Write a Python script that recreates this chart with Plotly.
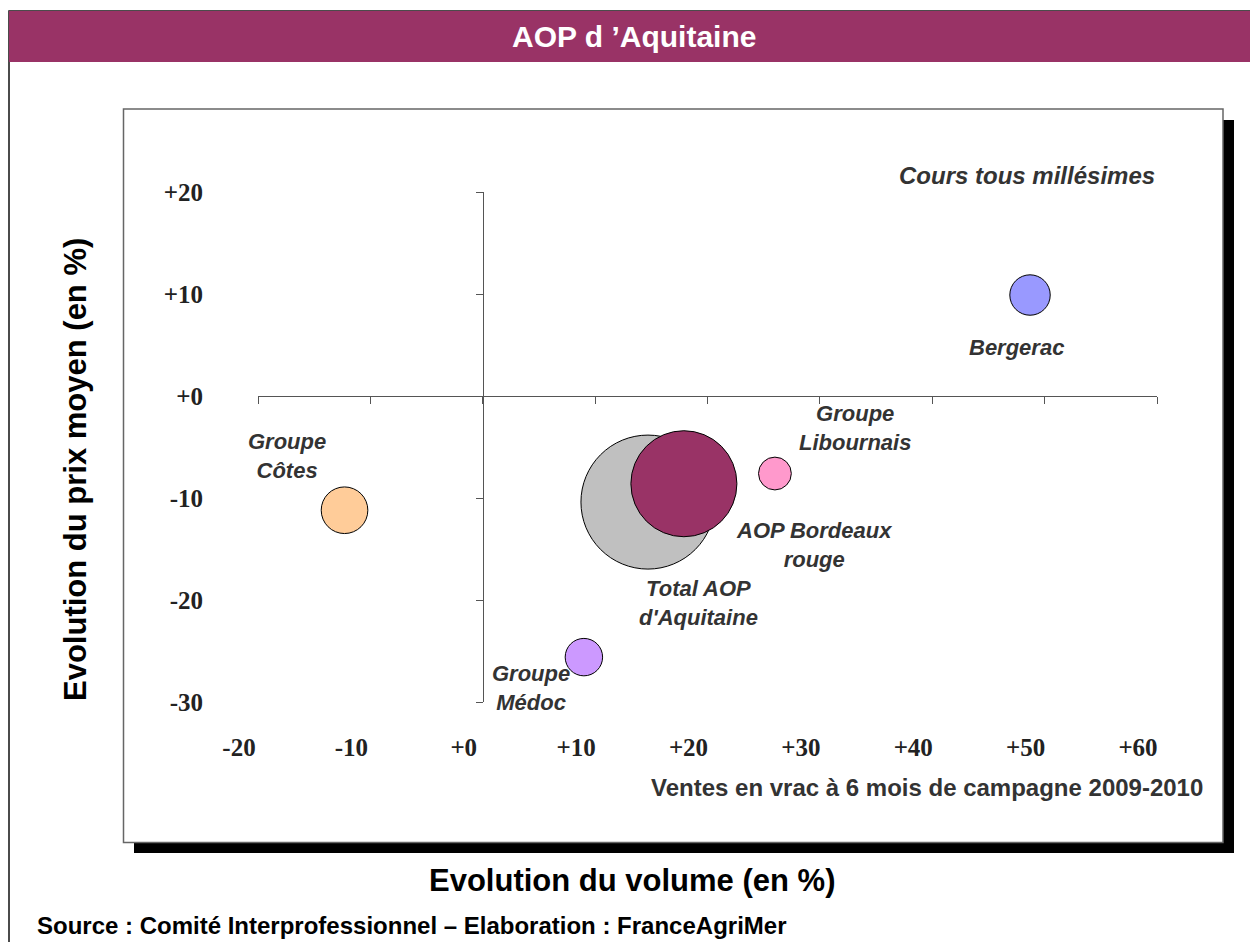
import plotly.graph_objects as go

# ---------------- data ----------------
names = ["Bergerac", "Groupe Côtes", "Groupe Médoc", "Groupe Libournais",
         "Total AOP d'Aquitaine", "AOP Bordeaux rouge"]
label_text = ["Bergerac", "Groupe<br>Côtes", "Groupe<br>Médoc", "Groupe<br>Libournais",
              "Total AOP<br>d'Aquitaine", "AOP Bordeaux<br>rouge"]
volume_change = [48.7, -12.3, 9.0, 26.0, 14.7, 17.9]      # Evolution du volume (%)
price_change = [9.9, -11.2, -25.6, -7.6, -10.4, -8.6]     # Evolution du prix moyen (%)
volume_weight = [9.1, 12.1, 7.8, 6.0, 100.0, 62.6]       # relative sales volume (bubble area)

x_ticks = [-20, -10, 0, 10, 20, 30, 40, 50, 60]
y_ticks = [-30, -20, -10, 0, 10, 20]
x_range = [-20, 60]
y_range = [-30, 20]

# ---------------- styles ----------------
colors = ["#9999FF", "#FFCC99", "#CC99FF", "#FF99CC", "#C0C0C0", "#993366"]
label_offsets = [(-14, -52), (-58, 54), (-53, -31), (80, 46), (51, -101), (130, -61)]
W, H = 1250, 942
ML, MR, MT, MB = 258, 93, 192, 240
PW, PH = W - ML - MR, H - MT - MB
SANS = "Liberation Sans, Arial, sans-serif"
SERIF = "Liberation Serif, Times New Roman, serif"
TXT = "#333333"
AXC = "#555555"
BIG_DIAM = 134.0


def px2x(px):
    return (px - ML) / PW


def py2y(py):
    return (H - MB - py) / PH


def fmt(v):
    return f"{v:+d}"


fig = go.Figure()

fig.add_trace(go.Scatter(
    x=volume_change, y=price_change, mode="markers", text=names,
    marker=dict(size=volume_weight, sizemode="area",
                sizeref=2.0 * max(volume_weight) / BIG_DIAM ** 2,
                color=colors, opacity=1, line=dict(color="black", width=1)),
    cliponaxis=False, showlegend=False, hoverinfo="text"))

# empty trace to host the crossing axes
fig.add_trace(go.Scatter(x=[None], y=[None], xaxis="x2", yaxis="y2",
                         showlegend=False, hoverinfo="skip"))

shapes = [
    # outer frame
    dict(type="rect", xref="paper", yref="paper", x0=px2x(9), x1=px2x(1262),
         y0=py2y(960), y1=py2y(11), line=dict(color="#111111", width=1.5),
         fillcolor="white", layer="below"),
    # title bar
    dict(type="rect", xref="paper", yref="paper", x0=px2x(9), x1=px2x(1262),
         y0=py2y(62), y1=py2y(11), line=dict(width=0), fillcolor="#993366",
         layer="below"),
    # shadow
    dict(type="rect", xref="paper", yref="paper", x0=px2x(134), x1=px2x(1234),
         y0=py2y(853), y1=py2y(120), line=dict(width=0), fillcolor="black",
         layer="below"),
    # inner box
    dict(type="rect", xref="paper", yref="paper", x0=px2x(123.5), x1=px2x(1223),
         y0=py2y(842.5), y1=py2y(109), line=dict(color="#666666", width=1.5),
         fillcolor="white", layer="below"),
]

annotations = []
for xi, yi, t, (dx, dy) in zip(volume_change, price_change, label_text, label_offsets):
    annotations.append(dict(x=xi, y=yi, xref="x", yref="y", text=t, showarrow=False,
                            xshift=dx, yshift=dy, xanchor="center", yanchor="middle",
                            font=dict(family=SANS, size=22, color=TXT, style="italic",
                                      weight="bold")))


def paper_note(px, py, text, size, color, xanchor="center", angle=0):
    return dict(x=px2x(px), y=py2y(py), xref="paper", yref="paper", text=text,
                showarrow=False, xanchor=xanchor, yanchor="middle", textangle=angle,
                font=dict(family=SANS, size=size, color=color))


annotations += [
    paper_note(634, 37, "<b>AOP d ’Aquitaine</b>", 30, "white"),
    paper_note(1157, 176, "<b><i>Cours tous millésimes</i></b>", 24, TXT, "right"),
    paper_note(1205, 787, "<b>Ventes en vrac à 6 mois de campagne 2009-2010</b>", 24, TXT,
               "right"),
    paper_note(75, 470, "<b>Evolution du prix moyen (en %)</b>", 31, "black", angle=-90),
    paper_note(632, 880, "<b>Evolution du volume (en %)</b>", 31, "black"),
    paper_note(35, 925, "<b>Source : Comité Interprofessionnel – Elaboration : FranceAgriMer</b>",
               24, "black", "left"),
]

x_zero_pos = (0 - y_range[0]) / (y_range[1] - y_range[0])
y_zero_pos = (0 - x_range[0]) / (x_range[1] - x_range[0])

tick_font = dict(family=SERIF, size=25, color="#222222", weight="bold")

fig.update_layout(
    width=W, height=H, margin=dict(l=ML, r=MR, t=MT, b=MB, pad=0),
    paper_bgcolor="white", plot_bgcolor="rgba(0,0,0,0)",
    shapes=shapes, annotations=annotations, showlegend=False,
    xaxis=dict(range=x_range, tickvals=x_ticks, ticktext=[fmt(v) for v in x_ticks],
               showline=False, showgrid=False, zeroline=False, ticks="",
               ticklabelstandoff=28, ticklabelshift=-19, tickfont=tick_font,
               fixedrange=True),
    yaxis=dict(range=y_range, tickvals=y_ticks, ticktext=[fmt(v) for v in y_ticks],
               showline=False, showgrid=False, zeroline=False, ticks="",
               ticklabelstandoff=54, tickfont=tick_font, fixedrange=True),
    xaxis2=dict(range=x_range, overlaying="x", anchor="free", position=x_zero_pos,
                side="bottom", tickvals=x_ticks, showticklabels=False, ticks="outside",
                ticklen=7, tickcolor=AXC, tickwidth=1, showline=True, linecolor=AXC,
                linewidth=1, showgrid=False, zeroline=False, fixedrange=True),
    yaxis2=dict(range=y_range, overlaying="y", anchor="free", position=y_zero_pos,
                side="left", tickvals=y_ticks, showticklabels=False, ticks="outside",
                ticklen=7, tickcolor=AXC, tickwidth=1, showline=True, linecolor=AXC,
                linewidth=1, showgrid=False, zeroline=False, fixedrange=True),
)

fig.write_html("out.html", config={"displayModeBar": False},
               post_script="document.body.style.margin='0';document.body.style.overflow='hidden';")
